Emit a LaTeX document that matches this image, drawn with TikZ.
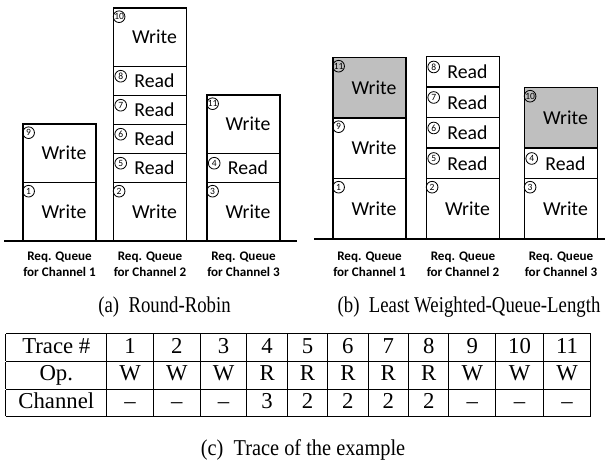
\documentclass[tikz,border=0pt]{standalone}
\usepackage{fontspec}
\usepackage{graphicx}
\setmainfont{Liberation Serif}
\newfontfamily\calibri{Carlito}
\usetikzlibrary{positioning}

\newcommand{\unitpx}{0.42pt}

\begin{document}
\begin{tikzpicture}[
    x=\unitpx, y=-\unitpx,
    qbox/.style={rectangle, draw=black, line width=0.5pt, minimum width=73*\unitpx, inner sep=0pt, outer sep=0pt},
    wbox/.style={qbox, minimum height=#1*\unitpx, label={[optext]center:Write}},
    wbox/.default=58.5,
    rbox/.style={qbox, minimum height=#1*\unitpx, label={[optext]center:Read}},
    rbox/.default=29,
    optext/.style={anchor=center, xshift=1.9pt, font=\calibri\fontsize{8.3}{9}\selectfont},
    num/.style={circle, draw=black, line width=0.35pt, minimum size=4.9pt, inner sep=0pt, font=\calibri\fontsize{4}{4}\selectfont},
    wtag/.style={label={[num, anchor=north west, xshift=0.5pt, yshift=-1.8pt]north west:#1}},
    rtag/.style={label={[num, anchor=west, xshift=0.4pt, yshift=2pt]west:#1}},
    busy/.style={fill=black!25},
    queue/.style={font=\calibri\bfseries\fontsize{5.5}{6.7}\selectfont, align=center},
    subcap/.style={font=\fontsize{9.5}{11}\selectfont},
    ground/.style={line width=0.5pt}
  ]
    \useasboundingbox (0,0) rectangle (605,464);

    % (a) Round-Robin
    \node[wbox, wtag=1, anchor=south] (a1) at (59.5,241) {};
    \node[wbox, wtag=9, above=0pt of a1] (a9) {};

    \node[wbox, wtag=2, anchor=south] (a2) at (150,241) {};
    \node[rbox, rtag=5, above=0pt of a2] (a5) {};
    \node[rbox, rtag=6, above=0pt of a5] (a6) {};
    \node[rbox, rtag=7, above=0pt of a6] (a7) {};
    \node[rbox, rtag=8, above=0pt of a7] (a8) {};
    \node[wbox, wtag=10, above=0pt of a8] (a10) {};

    \node[wbox, wtag=3, anchor=south] (a3) at (243.5,241) {};
    \node[rbox, rtag=4, above=0pt of a3] (a4) {};
    \node[wbox, wtag=11, above=0pt of a4] (a11) {};

    \draw[ground] (4,241) -- (297,241);
    \node[queue, below=0.9pt of a1] (qa1) {Req. Queue\\for Channel 1};
    \node[queue, below=0.9pt of a2] (qa2) {Req. Queue\\for Channel 2};
    \node[queue, below=0.9pt of a3] (qa3) {Req. Queue\\for Channel 3};

    % (b) Least Weighted-Queue-Length
    \node[wbox=60.5, wtag=1, anchor=south] (b1) at (369.5,239) {};
    \node[wbox=60.5, wtag=9, above=0pt of b1] (b9) {};
    \node[wbox=60.5, wtag=11, busy, above=0pt of b9] (b11) {};

    \node[wbox=60.5, wtag=2, anchor=south] (b2) at (463,239) {};
    \node[rbox=30.5, rtag=5, above=0pt of b2] (b5) {};
    \node[rbox=30.5, rtag=6, above=0pt of b5] (b6) {};
    \node[rbox=30.5, rtag=7, above=0pt of b6] (b7) {};
    \node[rbox=30.5, rtag=8, above=0pt of b7] (b8) {};

    \node[wbox=60.5, wtag=3, anchor=south] (b3) at (561,239) {};
    \node[rbox=30.5, rtag=4, above=0pt of b3] (b4) {};
    \node[wbox=60.5, wtag=10, busy, above=0pt of b4] (b10) {};

    \draw[ground] (314,239) -- (605,239);
    \node[queue, below=1.7pt of b1] (qb1) {Req. Queue\\for Channel 1};
    \node[queue, below=1.7pt of b2] (qb2) {Req. Queue\\for Channel 2};
    \node[queue, below=1.7pt of b3] (qb3) {Req. Queue\\for Channel 3};

    % captions
    \node[subcap] (capa) at (164.5,307) {\scalebox{0.83}[1]{(a)\enspace Round-Robin}};
    \node[subcap] (capb) at (469,307) {\scalebox{0.83}[1]{(b)\enspace Least Weighted-Queue-Length}};

    % (c) trace table
    \node[anchor=north west, inner sep=0pt, font=\fontsize{9.55}{11.2}\selectfont] (trace) at (5.3,333) {%
      \setlength{\tabcolsep}{5.3pt}%
      \begin{tabular}{|c|c|c|c|c|c|c|c|c|c|c|c|}
        \hline
        Trace \# & 1 & 2 & 3 & 4 & 5 & 6 & 7 & 8 & 9 & 10 & 11\\ \hline
        Op. & W & W & W & R & R & R & R & R & W & W & W\\ \hline
        Channel & -- & -- & -- & 3 & 2 & 2 & 2 & 2 & -- & -- & --\\ \hline
      \end{tabular}};
    \node[subcap] (capc) at (303,450) {\scalebox{0.9}[1]{(c)\enspace Trace of the example}};

  \end{tikzpicture}
\end{document}
